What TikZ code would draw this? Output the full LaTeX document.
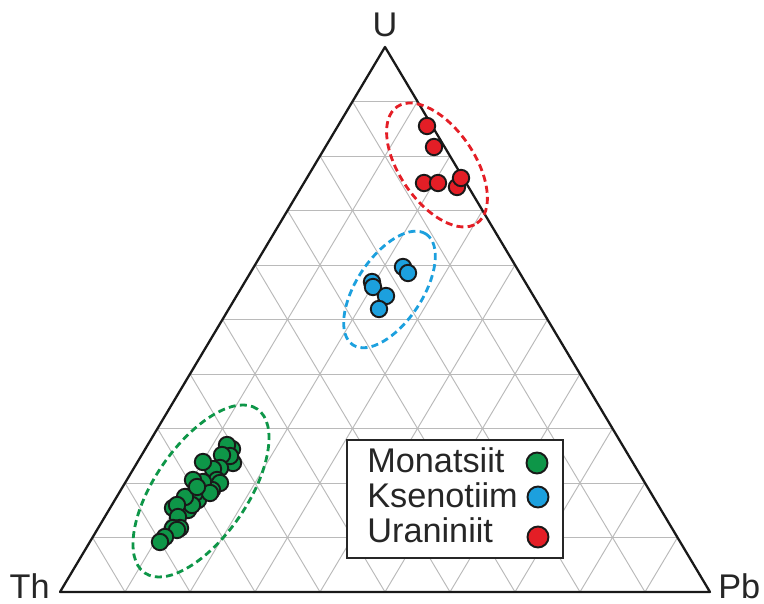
\documentclass[tikz,border=0pt]{standalone}
\usepackage{fontspec}
\setmainfont{Liberation Sans}
\usepackage{tikz}
\usetikzlibrary{calc,positioning}
\definecolor{mgreen}{RGB}{14,150,72}
\definecolor{kblue}{RGB}{28,160,222}
\definecolor{ured}{RGB}{228,30,38}
\tikzstyle{tgrid}   = [draw, black!27, line width=0.55pt]
\tikzstyle{side}    = [draw, black!90, line width=1.3pt, line join=round]
\tikzstyle{vlab}    = [inner sep=0pt, text=black!85, font=\fontsize{19.5}{23}\selectfont]
\tikzstyle{field}   = [dash pattern=on 4pt off 2.4pt, line width=1.6pt]
\tikzstyle{pt}      = [draw=black!90, line width=1.1pt]
\tikzstyle{legtext} = [inner sep=0pt, anchor=base west, text=black!85,
                       font=\fontsize{19.5}{23}\selectfont]
\tikzstyle{legdot}  = [circle, draw=black!90, line width=1.1pt,
                       minimum size=0.42cm, inner sep=0pt]

\begin{document}
\begin{tikzpicture}[x=0.02cm, y=0.02cm]
	\useasboundingbox (0,0) rectangle (764,604);
	\coordinate (Th) at (60,12);
	\coordinate (Pb) at (710,12);
	\coordinate (U)  at (385,557);

	\foreach \i in {1,...,9}{
		\draw[tgrid] ($(Th)!\i/10!(U)$) -- ($(Pb)!\i/10!(U)$);
		\draw[tgrid] ($(Th)!\i/10!(Pb)$) -- ($(U)!\i/10!(Pb)$);
		\draw[tgrid] ($(Pb)!\i/10!(Th)$) -- ($(U)!\i/10!(Th)$);
	}
	\draw[side] (Th) -- (Pb) -- (U) -- cycle;

	\node[vlab, above=0.2cm of U] (ulab) {U};
	\node[vlab, anchor=base east] (thlab) at ($(Th)+(-10,-7)$) {Th};
	\node[vlab, anchor=base west] (pblab) at ($(Pb)+(8,-7)$) {Pb};

	% fields
	\draw[field, ured, rotate around={-55.6:(437,439)}] (437,439) ellipse [x radius=70.6, y radius=37.4];
	\draw[field, kblue, rotate around={56.5:(389.5,314.5)}] (389.5,314.5) ellipse [x radius=66.4, y radius=33];
	\draw[field, mgreen, rotate around={55.5:(201,113)}] (201,113) ellipse [x radius=99.4, y radius=46.3];

	% analyses (pixel rows measured from the top)
	\foreach \x/\y in {427/126, 434/147, 424/183, 438/183, 457/187, 461/178}
		\draw[pt, fill=ured] (\x,{604-\y}) circle (8.2);
	\foreach \x/\y in {403/267, 408/273, 372/282, 373/287, 386/296, 379/309}
		\draw[pt, fill=kblue] (\x,{604-\y}) circle (8.2);
	\foreach \x/\y in {232/449, 227/445, 233/463, 230/456, 222/455, 220/468, 213/469,
	                   203/462, 217/480, 220/483, 212/490, 205/490, 203/482, 193/480,
	                   198/500, 195/493, 210/493, 188/510, 192/505, 185/497, 197/487,
	                   173/508, 177/505, 178/517, 180/528, 173/528, 177/530, 165/537,
	                   160/542}
		\draw[pt, fill=mgreen] (\x,{604-\y}) circle (8.2);

	% legend
	\draw[draw=black!85, line width=0.9pt, fill=white] (347,46) rectangle (563,164);
	\node[legtext] (mon) at (367,131) {Monatsiit};
	\node[legtext, below=0.7cm of mon.base west, anchor=base west] (kse) {Ksenotiim};
	\node[legtext, below=0.7cm of kse.base west, anchor=base west] (ura) {Uraniniit};
	\node[legdot, fill=mgreen] (dmon) at (537,141) {};
	\node[legdot, fill=kblue] (dkse) at (538,107) {};
	\node[legdot, fill=ured] (dura) at (538,67) {};
\end{tikzpicture}
\end{document}
